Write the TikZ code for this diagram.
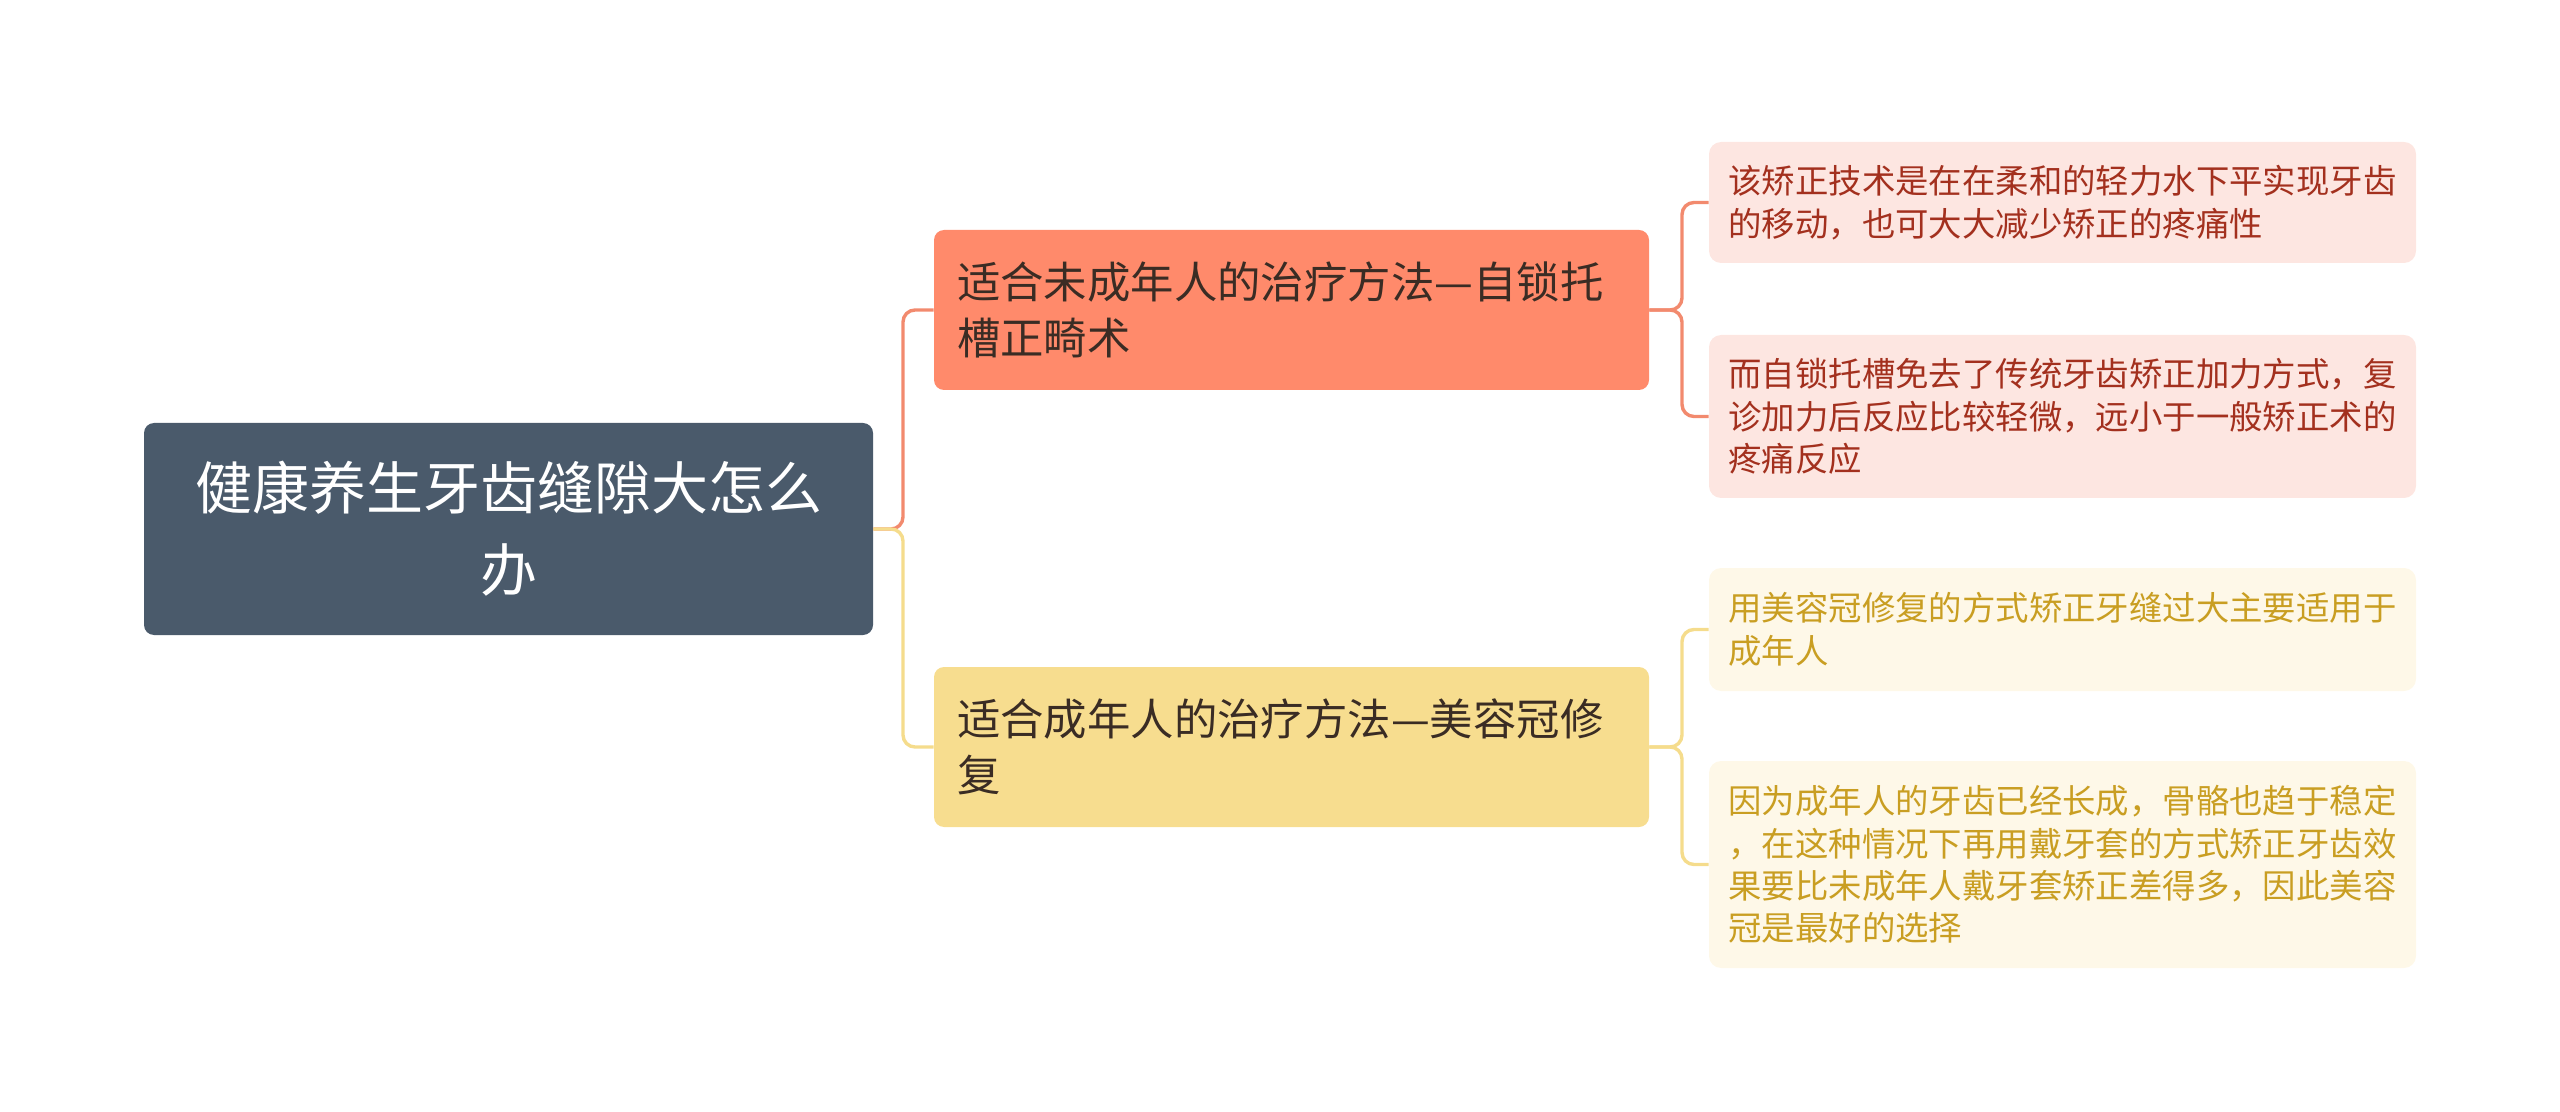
\documentclass[tikz,border=0pt]{standalone}
\usepackage{fontspec}
\setmainfont{Noto Sans CJK SC}
\usepackage{xcolor}
\usetikzlibrary{positioning,calc}
\definecolor{rootslate}{HTML}{4A5A6B}
\definecolor{brsalmon}{HTML}{FF8A6B}
\definecolor{brsand}{HTML}{F7DD8F}
\definecolor{lfpink}{HTML}{FDE6E1}
\definecolor{lfcream}{HTML}{FEF8E8}
\definecolor{txtred}{HTML}{A3301E}
\definecolor{txtgold}{HTML}{C99E22}
\definecolor{txtdark}{HTML}{3A2C24}
\definecolor{lnorange}{HTML}{F28A6E}
\definecolor{lnyellow}{HTML}{F5DC8C}

\begin{document}
\begin{tikzpicture}[
    x=0.5pt,y=-0.5pt,
    root/.style = {rectangle,rounded corners=5pt,fill=rootslate,text=white,align=center,
                   font=\fontsize{28.5}{41}\selectfont,text width=330pt,inner xsep=17.25pt,
                   minimum height=106pt},
    br/.style   = {rectangle,rounded corners=5pt,align=left,text=txtdark,
                   font=\fontsize{21.7}{27.7}\selectfont,text width=334.5pt,inner xsep=11.5pt,
                   minimum height=80pt},
    lf/.style   = {rectangle,rounded corners=6pt,align=left,
                   font=\fontsize{16.7}{21.2}\selectfont,text width=334pt,inner xsep=9.75pt},
    ln/.style   = {line width=1.7pt,rounded corners=6pt},
  ]
  \useasboundingbox (0,0) rectangle (2560,1112);

  \node[root] (root) at (508.5,529) {健康养生牙齿缝隙大怎么\\办};

  \node[br,fill=brsalmon] (br1) at (1291.5,310) {适合未成年人的治疗方法—自锁托\\槽正畸术};
  \node[br,fill=brsand]   (br2) at (1291.5,747) {适合成年人的治疗方法—美容冠修\\复};

  \node[lf,fill=lfpink,text=txtred,minimum height=60.5pt] (lf1) at (2062.5,202.5)
       {该矫正技术是在在柔和的轻力水下平实现牙齿\\的移动，也可大大减少矫正的疼痛性};
  \node[lf,fill=lfpink,text=txtred,minimum height=81.5pt] (lf2) at (2062.5,416.5)
       {而自锁托槽免去了传统牙齿矫正加力方式，复\\诊加力后反应比较轻微，远小于一般矫正术的\\疼痛反应};
  \node[lf,fill=lfcream,text=txtgold,minimum height=61.5pt] (lf3) at (2062.5,629.5)
       {用美容冠修复的方式矫正牙缝过大主要适用于\\成年人};
  \node[lf,fill=lfcream,text=txtgold,minimum height=103.5pt] (lf4) at (2062.5,864.5)
       {因为成年人的牙齿已经长成，骨骼也趋于稳定\\，在这种情况下再用戴牙套的方式矫正牙齿效\\果要比未成年人戴牙套矫正差得多，因此美容\\冠是最好的选择};

  \coordinate (hub)  at (903,529);
  \coordinate (hub1) at (1682,310);
  \coordinate (hub2) at (1682,747);

  \draw[ln,draw=lnorange] (root.east) -- (hub) |- (br1.west);
  \draw[ln,draw=lnyellow] (root.east) -- (hub) |- (br2.west);

  \foreach \a/\h/\b/\c in {br1/hub1/lf1/lnorange,br1/hub1/lf2/lnorange,
                           br2/hub2/lf3/lnyellow,br2/hub2/lf4/lnyellow}
    \draw[ln,draw=\c] (\a.east) -- (\h) |- (\b.west);

\end{tikzpicture}
\end{document}
